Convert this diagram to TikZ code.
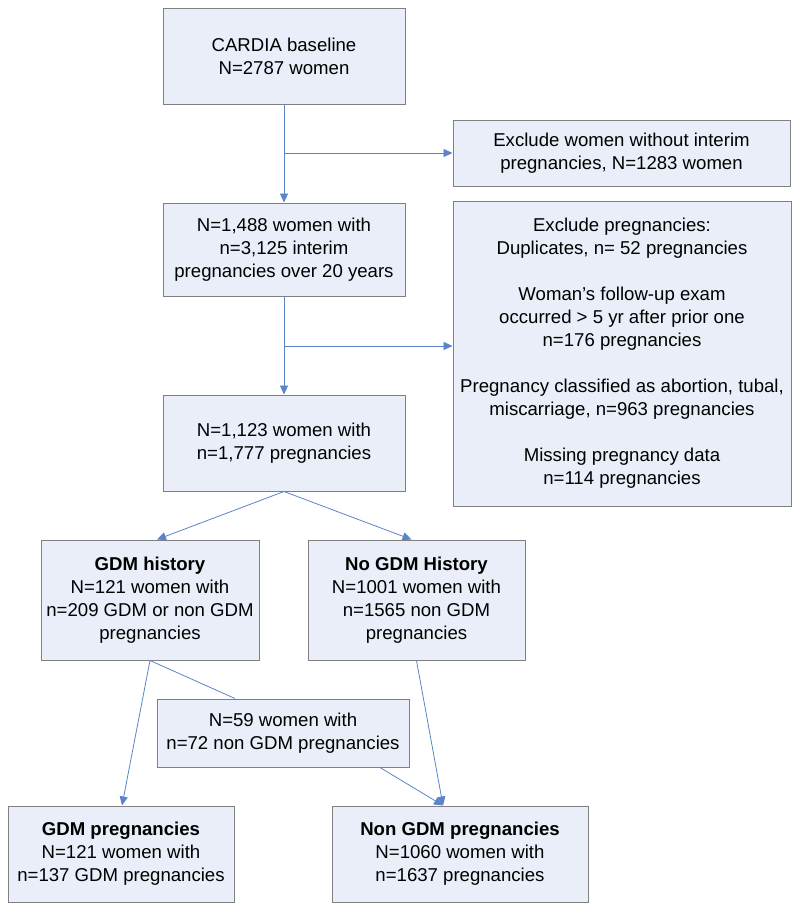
\documentclass[tikz,border=0pt]{standalone}
\usepackage{fontspec}
\setmainfont{Liberation Sans}
\usetikzlibrary{arrows.meta}
\definecolor{boxfill}{HTML}{E9EEF8}
\definecolor{boxline}{HTML}{808080}
\definecolor{arr}{HTML}{5B83C8}
\begin{document}
\begin{tikzpicture}[x=1pt,y=-1pt,
 box/.style={draw=boxline, fill=boxfill, line width=1pt, align=center, inner sep=0pt, font=\fontsize{18.6}{23}\selectfont},
 conn/.style={draw=arr, line width=0.8pt},
 arrowed/.style={conn, -{Triangle[length=9pt,width=8pt]}}]
\useasboundingbox (0,0) rectangle (800,911);

\node[box, minimum width=242pt, minimum height=96pt] (a) at (284,56) {CARDIA baseline\\N=2787 women};
\node[box, minimum width=337pt, minimum height=66pt] (b) at (621.5,153) {Exclude women without interim\\pregnancies, N=1283 women};
\node[box, minimum width=242pt, minimum height=93pt] (c) at (284,249.5) {N=1,488 women with\\n=3,125 interim\\pregnancies over 20 years};
\node[box, minimum width=338pt, minimum height=305pt] (d) at (622,353.5) {Exclude pregnancies:\\Duplicates, n= 52 pregnancies\\[23pt]Woman’s follow-up exam\\occurred > 5 yr after prior one\\n=176 pregnancies\\[23pt]Pregnancy classified as abortion, tubal,\\miscarriage, n=963 pregnancies\\[23pt]Missing pregnancy data\\n=114 pregnancies};
\node[box, minimum width=242pt, minimum height=96pt] (e) at (284,443) {N=1,123 women with\\n=1,777 pregnancies};
\node[box, minimum width=218pt, minimum height=120pt] (f) at (150,600) {\textbf{GDM history}\\N=121 women with\\n=209 GDM or non GDM\\pregnancies};
\node[box, minimum width=217pt, minimum height=120pt] (g) at (416.5,600) {\textbf{No GDM History}\\N=1001 women with\\n=1565 non GDM\\pregnancies};
\node[box, minimum width=252pt, minimum height=68pt] (h) at (283,733) {N=59 women with\\n=72 non GDM pregnancies};
\node[box, minimum width=226pt, minimum height=96pt] (i) at (121,854) {\textbf{GDM pregnancies}\\N=121 women with\\n=137 GDM pregnancies};
\node[box, minimum width=256pt, minimum height=96pt] (j) at (460,854) {\textbf{Non GDM pregnancies}\\N=1060 women with\\n=1637 pregnancies};

\coordinate (j1) at (284,153);
\coordinate (j2) at (284,346);
\draw[arrowed] (a.south) -- (c.north);
\draw[arrowed] (j1) -- (b.west);
\draw[arrowed] (c.south) -- (e.north);
\draw[arrowed] (j2) -- (d.west |- j2);
\draw[arrowed] (e.south) -- ([xshift=7pt]f.north);
\draw[arrowed] (e.south) -- ([xshift=-5pt]g.north);
\draw[arrowed] (f.south) -- ([xshift=1pt]i.north);
\draw[conn] (f.south) -- ([xshift=-48pt]h.north);
\draw[arrowed] ([xshift=97pt]h.south) -- ([xshift=-17pt]j.north);
\draw[arrowed] (g.south) -- ([xshift=-17pt]j.north);
\end{tikzpicture}
\end{document}
